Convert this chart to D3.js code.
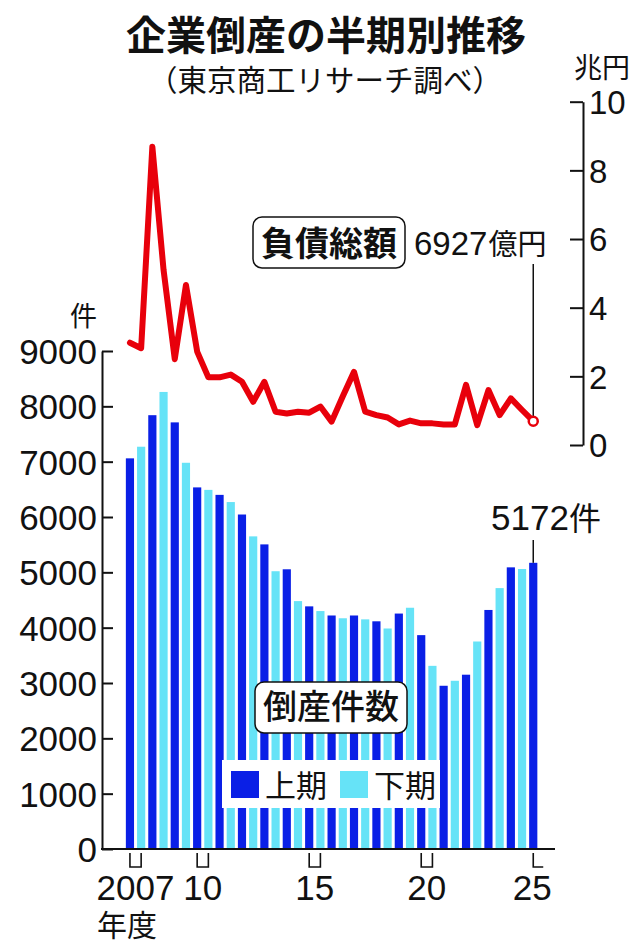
<!DOCTYPE html>
<html>
<head>
<meta charset="utf-8">
<script src="https://cdnjs.cloudflare.com/ajax/libs/d3/7.8.5/d3.min.js"></script>
<style>
  body { margin: 0; background: #fff; }
  text { font-family: "Liberation Sans", "Noto Sans CJK JP", sans-serif; fill: #111; }
</style>
</head>
<body>
<svg id="chart" width="640" height="951"></svg>
<script>
// half-year periods (fiscal year + 上/下)
var periods = ["2007上","2007下","2008上","2008下","2009上","2009下","2010上","2010下",
  "2011上","2011下","2012上","2012下","2013上","2013下","2014上","2014下","2015上","2015下",
  "2016上","2016下","2017上","2017下","2018上","2018下","2019上","2019下","2020上","2020下",
  "2021上","2021下","2022上","2022下","2023上","2023下","2024上","2024下","2025上"];

// bankruptcies (件)
var counts = [7060,7270,7840,8260,7710,6980,6535,6490,6400,6270,6045,5650,5505,5020,5055,4480,
  4385,4300,4220,4170,4220,4150,4115,3985,4255,4360,3865,3310,2950,3040,3150,3750,4320,4715,
  5090,5060,5172];

// total liabilities (兆円)
var debts = [2.98,2.82,8.69,5.1,2.5,4.66,2.72,1.97,1.97,2.05,1.84,1.26,1.84,0.97,0.92,0.97,
  0.94,1.12,0.68,1.42,2.13,0.97,0.87,0.8,0.6,0.71,0.63,0.63,0.6,0.6,1.75,0.58,1.6,0.87,1.36,
  1.02,0.6927];

var countTicks = [0,1000,2000,3000,4000,5000,6000,7000,8000,9000];
var debtTicks = [0,2,4,6,8,10];
var yearTicks = ["2007","2010","2015","2020","2025"];
var yearLabels = ["2007","10","15","20","25"];

var dark = "#0a1fe6", light = "#66e3f7", red = "#e8000b";

var svg = d3.select("#chart");

var x = d3.scaleBand().domain(periods).range([124.4, 538.8])
  .paddingInner(0.27).paddingOuter(0.13);
var cx = function(p){ return x(p) + x.bandwidth()/2; };

var y = d3.scaleLinear().domain([0, 9000]).range([849, 351]);
var y2 = d3.scaleLinear().domain([0, 10]).range([445, 101.7]);

// title
svg.append("text").attr("x", 326).attr("y", 50).attr("text-anchor", "middle")
  .attr("font-family", "Noto Sans CJK JP").attr("font-weight", 700).attr("font-size", 40)
  .text("企業倒産の半期別推移");
svg.append("text").attr("x", 325).attr("y", 91).attr("text-anchor", "middle")
  .attr("font-family", "Noto Sans CJK JP").attr("font-size", 29.5)
  .text("（東京商工リサーチ調べ）");

// bars
svg.append("g").selectAll("rect").data(periods).join("rect")
  .attr("x", function(d){ return x(d); })
  .attr("y", function(d, i){ return y(counts[i]); })
  .attr("width", x.bandwidth())
  .attr("height", function(d, i){ return y(0) - y(counts[i]); })
  .attr("fill", function(d){ return d.slice(-1) == "上" ? dark : light; });

// left axis, ticks pointing inward
var left = svg.append("g").attr("transform", "translate(102,0)")
  .call(d3.axisLeft(y).tickValues(countTicks).tickFormat(d3.format("d"))
    .tickSize(-11).tickSizeOuter(0).tickPadding(5));
left.select(".domain").attr("stroke", "#111").attr("stroke-width", 2);
left.selectAll(".tick line").attr("stroke", "#111").attr("stroke-width", 2);
left.selectAll(".tick text").attr("font-size", 35).attr("font-family", null)
  .attr("dy", "0.36em").attr("fill", "#111");

svg.append("text").attr("x", 97).attr("y", 326).attr("text-anchor", "end")
  .attr("font-family", "Noto Sans CJK JP").attr("font-size", 27).text("件");

// baseline
svg.append("line").attr("x1", 101).attr("x2", 555).attr("y1", y(0)).attr("y2", y(0))
  .attr("stroke", "#111").attr("stroke-width", 2);

// year brackets under the axis
yearTicks.forEach(function(yr, i){
  var h1 = cx(yr + "上");
  var hasH2 = periods.indexOf(yr + "下") >= 0;
  var h2 = hasH2 ? cx(yr + "下") : h1 + 10;
  var path = hasH2 ? "M" + h1 + ",853V867H" + h2 + "V853" : "M" + h1 + ",853V867H" + h2;
  svg.append("path").attr("d", path).attr("fill", "none")
    .attr("stroke", "#111").attr("stroke-width", 1.6);
  svg.append("text").attr("x", hasH2 ? (h1 + h2)/2 : h1 - 1).attr("y", 900)
    .attr("text-anchor", "middle").attr("font-size", 35).text(yearLabels[i]);
});
svg.append("text").attr("x", 97).attr("y", 936)
  .attr("font-family", "Noto Sans CJK JP").attr("font-size", 30).text("年度");

// right axis for liabilities
var right = svg.append("g").attr("transform", "translate(583,0)")
  .call(d3.axisRight(y2).tickValues(debtTicks).tickSize(-13).tickSizeOuter(0).tickPadding(6));
right.select(".domain").attr("stroke", "#111").attr("stroke-width", 2);
right.selectAll(".tick line").attr("stroke", "#111").attr("stroke-width", 2);
right.selectAll(".tick text").attr("font-size", 33).attr("font-family", null)
  .attr("dy", "0.36em").attr("fill", "#111");
svg.append("text").attr("x", 574).attr("y", 78)
  .attr("font-family", "Noto Sans CJK JP").attr("font-size", 28).text("兆円");

// liabilities line
var line = d3.line()
  .x(function(d, i){ return cx(periods[i]); })
  .y(function(d){ return y2(d); });
svg.append("path").datum(debts).attr("d", line)
  .attr("fill", "none").attr("stroke", red).attr("stroke-width", 6)
  .attr("stroke-linejoin", "round").attr("stroke-linecap", "round");

var lastX = cx(periods[periods.length - 1]);
var lastY = y2(debts[debts.length - 1]);
svg.append("line").attr("x1", lastX).attr("x2", lastX).attr("y1", 264).attr("y2", lastY)
  .attr("stroke", "#111").attr("stroke-width", 1.5);
svg.append("circle").attr("cx", lastX).attr("cy", lastY).attr("r", 4.5)
  .attr("fill", "#fff").attr("stroke", red).attr("stroke-width", 2.5);

// 負債総額 label
svg.append("rect").attr("x", 253).attr("y", 217).attr("width", 152).attr("height", 51)
  .attr("rx", 9).attr("fill", "#fff").attr("stroke", "#111").attr("stroke-width", 1.5);
svg.append("text").attr("x", 329).attr("y", 256).attr("text-anchor", "middle")
  .attr("font-family", "Noto Sans CJK JP").attr("font-weight", 700).attr("font-size", 34)
  .text("負債総額");
var lbl = svg.append("text").attr("x", 414).attr("y", 255);
lbl.append("tspan").attr("font-size", 33).text("6927");
lbl.append("tspan").attr("font-family", "Noto Sans CJK JP").attr("font-size", 29)
  .attr("dx", 1).text("億円");

// last bar label
var lastBarY = y(counts[counts.length - 1]);
svg.append("line").attr("x1", lastX).attr("x2", lastX).attr("y1", 540).attr("y2", lastBarY)
  .attr("stroke", "#111").attr("stroke-width", 1.5);
var lbl2 = svg.append("text").attr("x", 491).attr("y", 530);
lbl2.append("tspan").attr("font-size", 35).text("5172");
lbl2.append("tspan").attr("font-family", "Noto Sans CJK JP").attr("font-size", 32).text("件");

// 倒産件数 box
svg.append("rect").attr("x", 255).attr("y", 682).attr("width", 152).attr("height", 51)
  .attr("rx", 9).attr("fill", "#fff").attr("stroke", "#111").attr("stroke-width", 1.5);
svg.append("text").attr("x", 331).attr("y", 719).attr("text-anchor", "middle")
  .attr("font-family", "Noto Sans CJK JP").attr("font-weight", 500).attr("font-size", 34)
  .text("倒産件数");

// legend
svg.append("rect").attr("x", 222).attr("y", 760).attr("width", 218).attr("height", 48)
  .attr("fill", "#fff");
var legendItems = [["上期", dark, 231, 265], ["下期", light, 340, 374]];
legendItems.forEach(function(d){
  svg.append("rect").attr("x", d[2]).attr("y", 771).attr("width", 28).attr("height", 27)
    .attr("fill", d[1]);
  svg.append("text").attr("x", d[3]).attr("y", 797)
    .attr("font-family", "Noto Sans CJK JP").attr("font-size", 31).text(d[0]);
});
</script>
</body>
</html>
